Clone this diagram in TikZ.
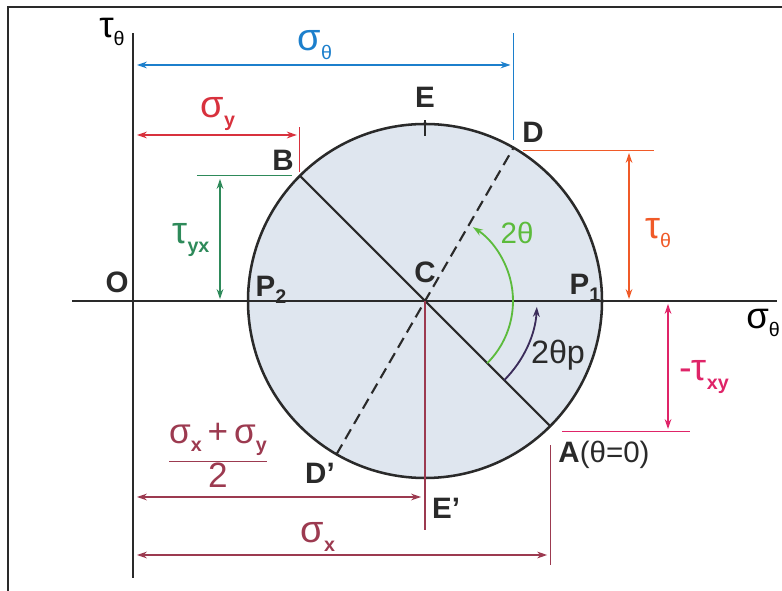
\documentclass[tikz,border=0pt]{standalone}
\usepackage{fontspec}
\setmainfont{Liberation Sans}
\usetikzlibrary{arrows.meta,calc}
\definecolor{MCInk}{HTML}{2A2A2A}
\definecolor{MCBlue}{HTML}{1C7FCC}
\definecolor{MCRed}{HTML}{D8313D}
\definecolor{MCGreen}{HTML}{2E8A5A}
\definecolor{MCOrange}{HTML}{F05A28}
\definecolor{MCPink}{HTML}{DF2468}
\definecolor{MCMaroon}{HTML}{9C3A50}
\definecolor{MCLime}{HTML}{5CBB3C}
\definecolor{MCPurple}{HTML}{3B2C5A}
\definecolor{MCFill}{HTML}{DFE6EF}
\newcommand{\sbs}[1]{\raisebox{-0.45ex}{\fontsize{14}{14}\selectfont #1}}

\begin{document}
\begin{tikzpicture}[x=0.025cm,y=0.025cm,
  dimarr/.style={line width=0.9pt,{Stealth[length=2.5mm,width=1.7mm]}-{Stealth[length=2.5mm,width=1.7mm]}},
  guide/.style={line width=0.9pt},
  ptlabel/.style={font=\fontsize{21}{21}\selectfont\bfseries,text=MCInk},
  gklabel/.style={font=\fontsize{27}{27}\selectfont}]
\path[use as bounding box] (0,0) rectangle (782,591);
% frame
\coordinate (fBL) at (8,0);
\coordinate (fTL) at (8,584);
\coordinate (fTR) at (782,584);
\draw[MCInk,line width=1pt] (fBL) -- (fTL) -- (fTR);
% circle and points
\coordinate (C) at (425,290);
\fill[MCFill] (C) circle (177);
\coordinate (A) at ($(C)+(-45:177)$);
\coordinate (B) at ($(C)+(135:177)$);
\coordinate (D) at ($(C)+(60:177)$);
\coordinate (Dp) at ($(C)+(240:177)$);
\coordinate (E) at ($(C)+(90:177)$);
% axes
\coordinate (tauTop) at (133,558);
\coordinate (tauBot) at (133,13);
\coordinate (sigL) at (72,290);
\coordinate (sigR) at (777,290);
\draw[MCInk,line width=0.9pt] (tauBot) -- (tauTop);
\draw[MCInk,line width=0.9pt] (sigL) -- (sigR);
\node (tauAx) at (112,559) {\fontsize{26}{26}\selectfont τ\sbs{θ}};
\node (sigAx) at (763,268) {\fontsize{26}{26}\selectfont σ\sbs{θ}};
% diameters
\draw[MCInk,line width=1.5pt] (B) -- (A);
\draw[MCInk,line width=1.5pt,dash pattern=on 8pt off 4.5pt] (Dp) -- (D);
\coordinate (Etop) at (425,471);
\coordinate (Ebot) at (425,455);
\draw[MCInk,line width=1pt] (Ebot) -- (Etop);
\draw[MCInk,line width=1.8pt] (C) circle (177);
% sigma_theta
\coordinate (sthTop) at ($(D)+(0,115)$);
\coordinate (sthBot) at ($(D)+(0,8)$);
\coordinate (sthL) at (137,526);
\coordinate (sthR) at ($(D|-sthL)+(-3,0)$);
\draw[MCBlue,guide] (sthBot) -- (sthTop);
\draw[MCBlue,dimarr] (sthL) -- (sthR);
\node[gklabel,text=MCBlue] (sthLab) at (315,546) {σ\sbs{θ}};
% sigma_y
\coordinate (syTop) at ($(B)+(0,49)$);
\coordinate (syBot) at ($(B)+(0,4)$);
\coordinate (syL) at (137,456);
\coordinate (syR) at ($(B|-syL)+(-3,0)$);
\draw[MCRed,guide] (syBot) -- (syTop);
\draw[MCRed,dimarr] (syL) -- (syR);
\node[gklabel,text=MCRed] (syLab) at (218,477) {σ\sbs{\bfseries y}};
% tau_yx
\coordinate (tyxL) at ($(B)+(-103,0)$);
\coordinate (tyxR) at ($(B)+(-8,0)$);
\coordinate (tyxTop) at (220,412);
\coordinate (tyxBot) at (220,292);
\draw[MCGreen,guide] (tyxL) -- (tyxR);
\draw[MCGreen,dimarr] (tyxTop) -- (tyxBot);
\node[gklabel,text=MCGreen] (tyxLab) at (191,351) {τ\sbs{\bfseries yx}};
% tau_theta
\coordinate (tthL) at ($(D)+(9,-3)$);
\coordinate (tthR) at ($(D)+(140,-3)$);
\coordinate (tthTop) at (629,438);
\coordinate (tthBot) at (629,292);
\draw[MCOrange,guide] (tthL) -- (tthR);
\draw[MCOrange,dimarr] (tthTop) -- (tthBot);
\node[gklabel,text=MCOrange] (tthLab) at (658,358) {τ\sbs{θ}};
% -tau_xy
\coordinate (txyL) at ($(A)+(12,-5)$);
\coordinate (txyR) at ($(A)+(140,-5)$);
\coordinate (txyTop) at (668,287);
\coordinate (txyBot) at (668,162);
\draw[MCPink,guide] (txyL) -- (txyR);
\draw[MCPink,dimarr] (txyTop) -- (txyBot);
\node[gklabel,text=MCPink] (txyLab) at (704,214) {-τ\sbs{\bfseries xy}};
% centre and sigma_x
\coordinate (Epl) at (425,61);
\draw[MCMaroon,guide] (C) -- (Epl);
\coordinate (avgL) at (137,94);
\coordinate (avgR) at (421,94);
\draw[MCMaroon,dimarr] (avgL) -- (avgR);
\node[text=MCMaroon,font=\fontsize{25}{25}\selectfont] (avgLab) at (218,133)
  {\setlength{\arrayrulewidth}{1.3pt}\setlength{\tabcolsep}{0pt}\begin{tabular}{c}σ\sbs{\bfseries x}\,+\,σ\sbs{\bfseries y}\\[5pt]\hline 2\end{tabular}};
\coordinate (sxTop) at ($(A)+(0,-19)$);
\coordinate (sxBot) at ($(A)+(0,-139)$);
\coordinate (sxL) at (137,36);
\coordinate (sxR) at ($(A|-sxL)+(-3,0)$);
\draw[MCMaroon,guide] (sxTop) -- (sxBot);
\draw[MCMaroon,dimarr] (sxL) -- (sxR);
\node[gklabel,text=MCMaroon] (sxLab) at (318,54) {σ\sbs{\bfseries x}};
% angle arcs
\coordinate (g1) at ($(C)+(-45:88)$);
\draw[MCLime,line width=1.3pt,-{Stealth[length=2.5mm,width=1.7mm]}] (g1) arc[start angle=-45,end angle=57,radius=88];
\node[text=MCLime,font=\fontsize{21}{21}\selectfont] (twoth) at (517,358) {2θ};
\coordinate (p1) at ($(C)+(-45:112)$);
\draw[MCPurple,line width=1.3pt,-{Stealth[length=2.5mm,width=1.7mm]}] (p1) arc[start angle=-45,end angle=-3,radius=112];
\node[text=MCInk,font=\fontsize{23}{23}\selectfont] (twothp) at (558,236) {2θp};
% point labels
\node[ptlabel] (Olab) at (117,309) {O};
\node[ptlabel] (P2lab) at (271,301) {P\sbs{2}};
\node[ptlabel] (P1lab) at (585,303) {P\sbs{1}};
\node[ptlabel] (Clab) at (425,319) {C};
\node[ptlabel] (Elab) at (425,494) {E};
\node[ptlabel] (Blab) at (283,431) {B};
\node[ptlabel] (Dlab) at (533,459) {D};
\node[ptlabel] (Dplab) at (320,118) {D’};
\node[ptlabel] (Eplab) at (446,83) {E’};
\node[ptlabel] (Alab) at (604,136) {A\mdseries(θ=0)};
\end{tikzpicture}
\end{document}
